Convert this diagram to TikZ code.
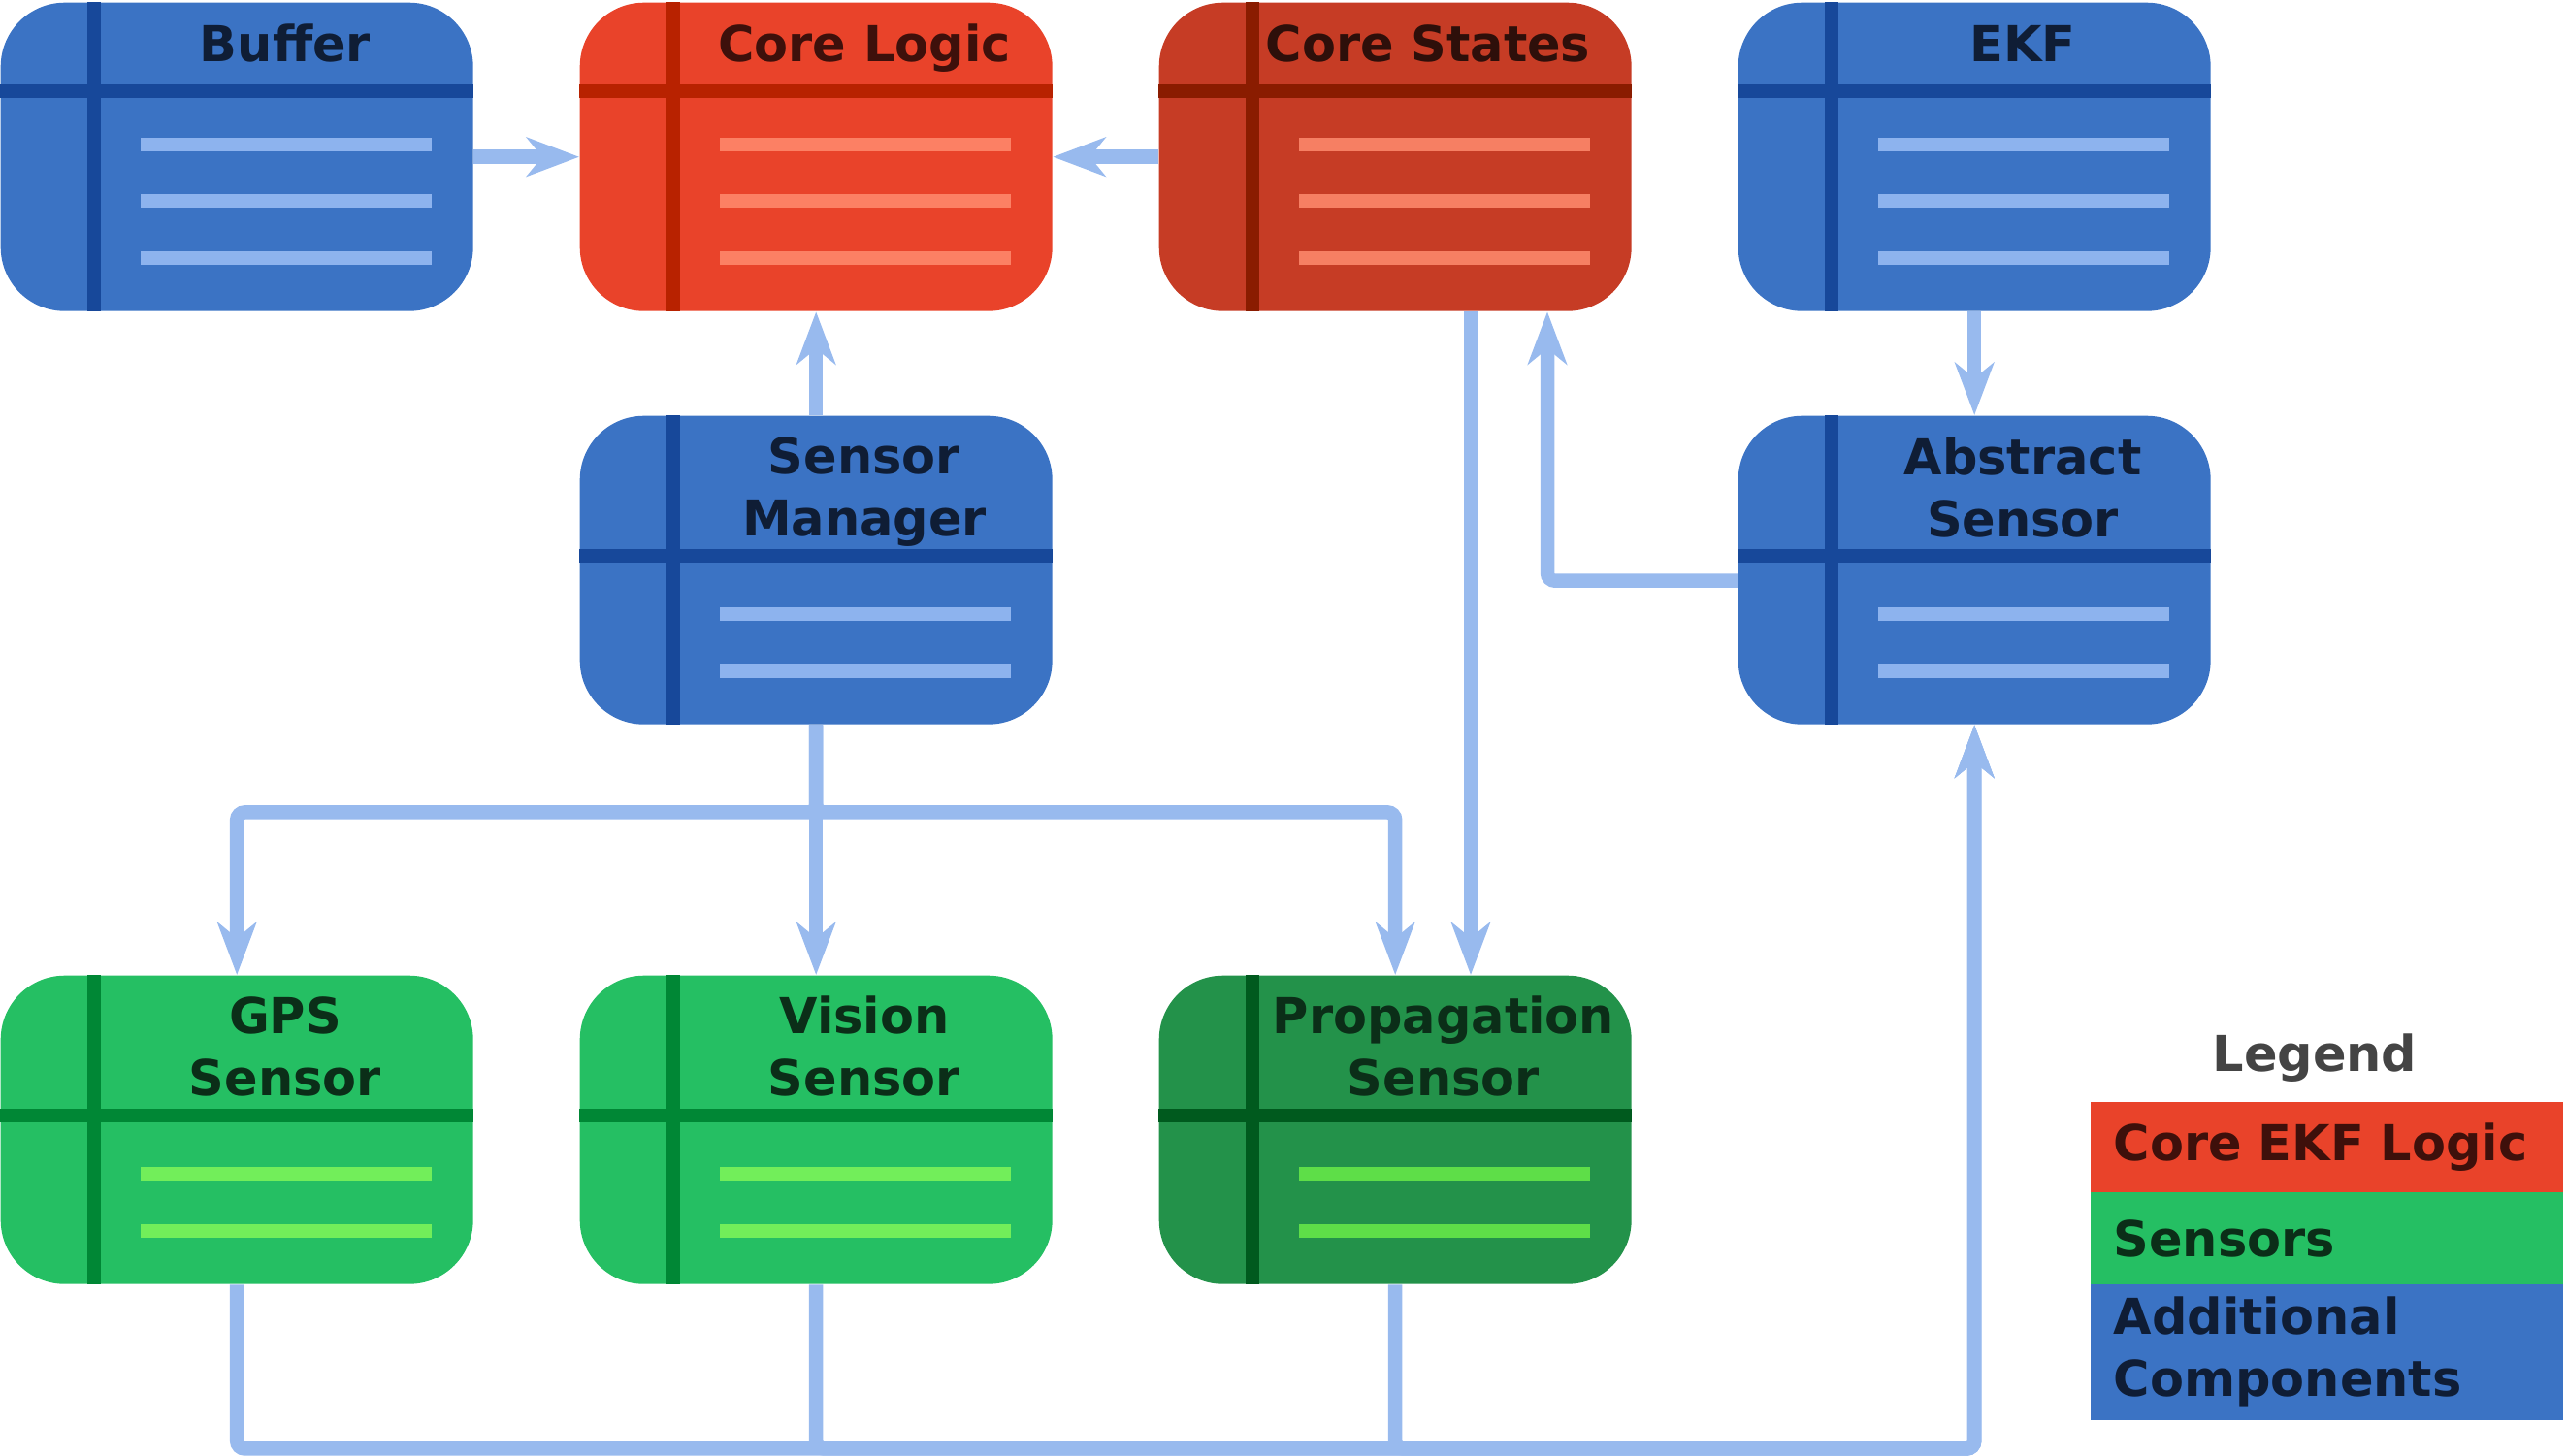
\documentclass[tikz,border=0pt]{standalone}
\usepackage{fontspec}
\setmainfont{DejaVu Sans}
\usetikzlibrary{positioning,arrows.meta,calc}

\definecolor{blueFill}{HTML}{3B73C4}
\definecolor{blueDark}{HTML}{17489A}
\definecolor{blueLine}{HTML}{8DB3EE}
\definecolor{blueText}{HTML}{0F1D35}
\definecolor{redFill}{HTML}{E9432A}
\definecolor{redDark}{HTML}{B82200}
\definecolor{redLine}{HTML}{FC8064}
\definecolor{redText}{HTML}{3E100B}
\definecolor{rustFill}{HTML}{C63C25}
\definecolor{rustDark}{HTML}{8A1C00}
\definecolor{rustLine}{HTML}{F67F63}
\definecolor{rustText}{HTML}{2E0F0A}
\definecolor{greenFill}{HTML}{25BF63}
\definecolor{greenDark}{HTML}{008735}
\definecolor{greenLine}{HTML}{72EE5A}
\definecolor{greenText}{HTML}{0B2E18}
\definecolor{dgreenFill}{HTML}{23924A}
\definecolor{dgreenDark}{HTML}{005A1E}
\definecolor{dgreenLine}{HTML}{5EDE48}
\definecolor{flowc}{HTML}{98BAEE}
\definecolor{legendGray}{HTML}{444444}

\begin{document}
\begin{tikzpicture}[
  >={Stealth[length=0.54cm,width=0.40cm,inset=0.16cm]},
  cls/.style={rectangle, rounded corners=0.66cm, minimum width=4.87cm,
    minimum height=3.18cm, inner sep=0pt, anchor=north west},
  band/.style={line width=0.14cm},
  ttl/.style={font=\fontsize{14.5}{18}\selectfont\bfseries, inner sep=0pt,
    align=center, anchor=base},
  flow/.style={->, line width=0.145cm, draw=flowc, rounded corners=0.08cm},
  legrow/.style={rectangle, inner ysep=0pt, inner xsep=0.24cm, text width=4.39cm,
    align=left, font=\fontsize{14.5}{18.2}\selectfont\bfseries}
]

\useasboundingbox (0,0) rectangle (26.46,-15.00);

% -----------------------
% Layout parameters
% -----------------------
\def\xA{0}
\def\xB{5.97}
\def\xC{11.94}
\def\xD{17.91}

\def\yA{-0.02}   % top row
\def\yB{-4.28}   % middle row
\def\yC{-10.05}  % sensor row

% box: name, x, y, colour scheme, header band, body lines
\def\compbox#1#2#3#4#5#6{%
  \node[cls, fill=#4Fill] (#1) at (#2,#3) {};
  \draw[band, draw=#4Dark] ($(#1.north west)+(0.97,0)$) -- ($(#1.south west)+(0.97,0)$);
  \draw[band, draw=#4Dark] ($(#1.north west)+(0,#5)$) -- ($(#1.north east)+(0,#5)$);
  \foreach \ly in {#6}
    \draw[band, draw=#4Line] ($(#1.north west)+(1.45,\ly)$) -- ++(3.0,0);
}

% -----------------------
% Top row
% -----------------------
\compbox{buffer}{\xA}{\yA}{blue}{-0.92}{-1.47,-2.05,-2.64}
\compbox{logic}{\xB}{\yA}{red}{-0.92}{-1.47,-2.05,-2.64}
\compbox{states}{\xC}{\yA}{rust}{-0.92}{-1.47,-2.05,-2.64}
\compbox{ekf}{\xD}{\yA}{blue}{-0.92}{-1.47,-2.05,-2.64}

\node[ttl, text=blueText] (bufferT) at ($(buffer.north west)+(2.94,-0.61)$) {Buffer};
\node[ttl, text=redText] (logicT) at ($(logic.north west)+(2.94,-0.61)$) {Core Logic};
\node[ttl, text=rustText] (statesT) at ($(states.north west)+(2.78,-0.61)$) {Core States};
\node[ttl, text=blueText] (ekfT) at ($(ekf.north west)+(2.94,-0.61)$) {EKF};

% -----------------------
% Middle row (base = last line)
% -----------------------
\compbox{manager}{\xB}{\yB}{blue}{-1.45}{-2.05,-2.64}
\compbox{abstract}{\xD}{\yB}{blue}{-1.45}{-2.05,-2.64}

\node[ttl, text=blueText] (managerT) at ($(manager.north west)+(2.94,-1.24)$) {Sensor\\Manager};
\node[ttl, text=blueText] (abstractT) at ($(abstract.north west)+(2.94,-1.25)$) {Abstract\\Sensor};

% -----------------------
% Sensors
% -----------------------
\compbox{gps}{\xA}{\yC}{green}{-1.45}{-2.05,-2.64}
\compbox{vision}{\xB}{\yC}{green}{-1.45}{-2.05,-2.64}
\compbox{prop}{\xC}{\yC}{dgreen}{-1.45}{-2.05,-2.64}

\node[ttl, text=greenText] (gpsT) at ($(gps.north west)+(2.94,-1.24)$) {GPS\\Sensor};
\node[ttl, text=greenText] (visionT) at ($(vision.north west)+(2.94,-1.24)$) {Vision\\Sensor};
\node[ttl, text=greenText] (propT) at ($(prop.north west)+(2.94,-1.24)$) {Propagation\\Sensor};

% -----------------------
% Connectors
% -----------------------
\draw[flow] (buffer.east) -- (logic.west);
\draw[flow] (states.west) -- (logic.east);
\draw[flow] (manager.north) -- (logic.south);
\draw[flow] (ekf.south) -- (abstract.north);
\draw[flow] ($(abstract.west)+(0,-0.11)$) -| ($(states.south west)+(4.01,0)$);
\draw[flow] ($(states.south west)+(3.22,0)$) -- ($(prop.north west)+(3.22,0)$);

\coordinate (split) at ($(manager.south)+(0,-0.90)$);
\draw[flow] (manager.south) -- (split) -| (gps.north);
\draw[flow] (manager.south) -- (vision.north);
\draw[flow] (manager.south) -- (split) -| (prop.north);

\coordinate (bus) at ($(gps.south)+(0,-1.69)$);
\draw[flow] (gps.south) -- (bus) -| (abstract.south);
\draw[flow] (vision.south) -- (vision.south |- bus) -| (abstract.south);
\draw[flow] (prop.south) -- (prop.south |- bus) -| (abstract.south);

% -----------------------
% Legend
% -----------------------
\node[ttl, text=legendGray] (legT) at (23.86,-11.04) {Legend};
\node[legrow, anchor=north west, fill=redFill, text=redText, minimum height=0.94cm]
  (legcore) at (21.54,-11.35) {Core EKF Logic};
\node[legrow, below=-0.02cm of legcore, fill=greenFill, text=greenText, minimum height=0.95cm]
  (legsens) {Sensors};
\node[legrow, below=-0.02cm of legsens, fill=blueFill, text=blueText, minimum height=1.40cm]
  (legadd) {Additional\\Components};

\end{tikzpicture}
\end{document}
